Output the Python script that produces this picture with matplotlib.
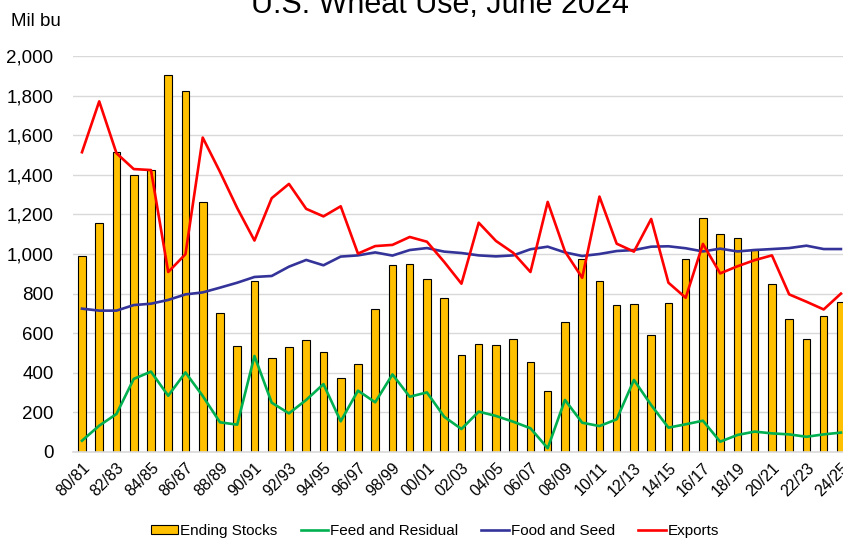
import matplotlib
matplotlib.use("Agg")
import matplotlib.pyplot as plt
import numpy as np

plt.rcParams['font.family'] = ['Liberation Sans', 'DejaVu Sans']

years = ["80/81", "81/82", "82/83", "83/84", "84/85", "85/86", "86/87", "87/88",
         "88/89", "89/90", "90/91", "91/92", "92/93", "93/94", "94/95", "95/96",
         "96/97", "97/98", "98/99", "99/00", "00/01", "01/02", "02/03", "03/04",
         "04/05", "05/06", "06/07", "07/08", "08/09", "09/10", "10/11", "11/12",
         "12/13", "13/14", "14/15", "15/16", "16/17", "17/18", "18/19", "19/20",
         "20/21", "21/22", "22/23", "23/24", "24/25"]

ending_stocks = [989, 1159, 1515, 1399, 1425, 1905, 1821, 1261, 702, 536,
                 866, 475, 530, 568, 507, 376, 444, 722, 946, 950,
                 876, 777, 491, 546, 540, 571, 456, 306, 657, 976,
                 862, 743, 746, 590, 753, 976, 1181, 1100, 1080, 1027,
                 846, 674, 570, 688, 758]

feed_residual = [57, 133, 192, 369, 406, 284, 402, 283, 150, 138,
                 485, 249, 195, 263, 343, 155, 310, 251, 392, 279,
                 301, 178, 116, 204, 182, 153, 120, 19, 263, 148,
                 131, 165, 364, 237, 123, 140, 158, 52, 86, 103,
                 94, 89, 77, 89, 98]

food_seed = [724, 714, 714, 742, 749, 768, 796, 806, 830, 855,
             884, 889, 936, 970, 943, 987, 993, 1008, 992, 1020,
             1030, 1012, 1005, 993, 988, 993, 1024, 1037, 1008, 990,
             1000, 1015, 1020, 1037, 1039, 1029, 1013, 1027, 1013, 1020,
             1025, 1030, 1042, 1025, 1025]

exports = [1514, 1771, 1509, 1429, 1424, 909, 999, 1588, 1415, 1232,
           1068, 1282, 1354, 1228, 1190, 1241, 1002, 1040, 1046, 1086,
           1062, 960, 850, 1158, 1066, 1006, 909, 1263, 1013, 880,
           1290, 1052, 1012, 1177, 855, 779, 1051, 902, 938, 969,
           993, 796, 759, 720, 800]

x = np.arange(len(years))

fig = plt.figure(figsize=(8.43, 5.38), dpi=100)
ax = fig.add_axes([73 / 843, 1 - 452 / 538, 770 / 843, 396 / 538])

bars = ax.bar(x, ending_stocks, width=0.44, color="#FFC000", edgecolor="black",
              linewidth=0.8, label="Ending Stocks", zorder=2)
l1, = ax.plot(x, feed_residual, color="#00B050", lw=1.9, label="Feed and Residual", zorder=3)
l2, = ax.plot(x, food_seed, color="#333399", lw=1.9, label="Food and Seed", zorder=3)
l3, = ax.plot(x, exports, color="#FF0000", lw=1.9, label="Exports", zorder=4)

ax.set_ylim(0, 2000)
ax.set_yticks(range(0, 2001, 200))
ax.set_yticklabels([f"{v:,}" for v in range(0, 2001, 200)], fontsize=13.5)
ax.set_xlim(-0.52, 44.12)
ax.set_xticks(x[::2])
ax.set_xticklabels(years[::2], rotation=45, ha="right", rotation_mode="anchor",
                   fontsize=11.5)
ax.tick_params(axis="x", length=0, pad=6)
ax.tick_params(axis="y", length=0, pad=14)

ax.grid(axis="y", color="#d9d9d9", lw=1.0, zorder=0)
ax.set_axisbelow(True)
for s in ["top", "right", "left"]:
    ax.spines[s].set_visible(False)
ax.spines["bottom"].set_color("#d9d9d9")
ax.spines["bottom"].set_linewidth(1.2)

fig.text(11 / 843, 1 - 22 / 538, "Mil bu", fontsize=13.5, ha="left", va="center")
fig.text(440 / 843, 1 - 13 / 538, "U.S. Wheat Use, June 2024", fontsize=22,
         ha="center", va="baseline")

fig.legend([bars, l1, l2, l3],
           ["Ending Stocks", "Feed and Residual", "Food and Seed", "Exports"],
           loc="center", bbox_to_anchor=(435 / 843, 1 - 531 / 538),
           ncol=4, frameon=False, fontsize=11, handlelength=1.8, handleheight=0.55,
           handletextpad=0.15, columnspacing=1.5, borderaxespad=0, borderpad=0)

fig.savefig("out.png", dpi=100)
